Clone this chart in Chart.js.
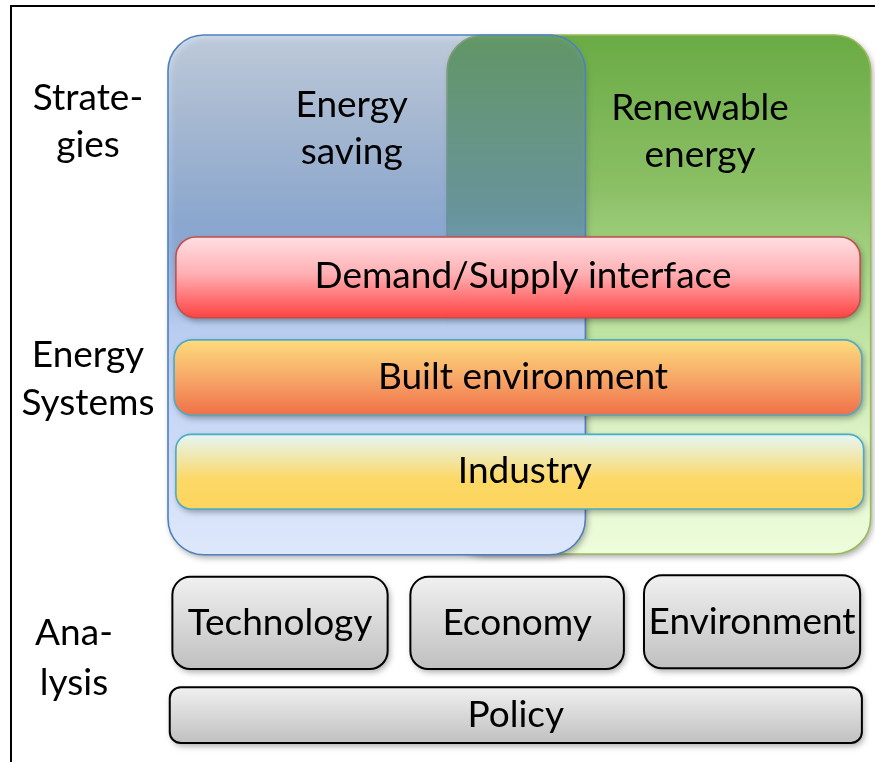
<!DOCTYPE html>
<html>
<head>
<meta charset="utf-8">
<script src="https://cdn.jsdelivr.net/npm/chart.js@4.4.0/dist/chart.umd.min.js"></script>
<style>
  html, body { margin: 0; padding: 0; background: #fff; }
  #wrap { width: 875px; height: 762px; position: relative; }
</style>
</head>
<body>
<div id="wrap"><canvas id="diagram" width="875" height="762"></canvas></div>
<script>
// 图的数据 (单位: 0-100 网格, x 向右, y 向下)
// 策略层
const strategyNames = [['Energy', 'saving'], ['Renewable', 'energy']];
const strategyXFrom = [19.2, 51.1];
const strategyXTo = [66.9, 99.5];
const strategyYFrom = [4.6, 4.6];
const strategyYTo = [72.8, 72.7];

// 能源系统层
const systemNames = ['Demand/Supply interface', 'Built environment', 'Industry'];
const systemXFrom = [20.1, 19.9, 20.1];
const systemXTo = [98.3, 98.5, 98.7];
const systemYFrom = [31.1, 44.6, 57.0];
const systemYTo = [41.7, 54.5, 66.8];

// 分析层
const analysisNames = ['Technology', 'Economy', 'Environment', 'Policy'];
const analysisXFrom = [19.7, 46.9, 73.6, 19.4];
const analysisXTo = [44.3, 71.3, 98.3, 98.5];
const analysisYFrom = [75.7, 75.7, 75.5, 90.2];
const analysisYTo = [87.8, 87.8, 87.7, 97.5];

// 左侧行标题
const rowLabels = [['Strate-', 'gies'], ['Energy', 'Systems'], ['Ana-', 'lysis']];

// 样式
const FONT = '37px Lato, "Open Sans", sans-serif';
const LINE_H = 47;

const strategyStyle = [
  { radius: 36,
    stops: [[0, 'rgba(100,140,192,0.3)'], [0.36, 'rgba(92,140,208,0.58)'], [0.56, 'rgba(184,204,240,1)'], [1, 'rgba(222,232,252,1)']],
    stroke: '#4f81bd' },
  { radius: 36,
    stops: [[0, '#6aab45'], [0.3, '#8cc066'], [0.42, '#a2d080'], [0.6, '#c4e6a8'], [0.78, '#dcf3c8'], [1, '#eefddc']],
    stroke: '#9bbb59' }
];
const systemStyle = [
  { radius: 20, stroke: '#c0504d', stops: [[0, '#ffdfe2'], [0.45, '#ffb0b4'], [1, '#ff4242']] },
  { radius: 18, stroke: '#4bacc6', stops: [[0, '#fddc7c'], [0.5, '#f7a868'], [1, '#f07048']] },
  { radius: 15, stroke: '#4bacc6', stops: [[0, '#e4f6f6'], [0.6, '#fcd866'], [1, '#fdd55e']] }
];
const grayStops = [[0, '#f0f0f0'], [1, '#c0c0c0']];

function roundRectPath(ctx, x, y, w, h, r) {
  r = Math.min(r, w / 2, h / 2);
  ctx.beginPath();
  ctx.moveTo(x + r, y);
  ctx.lineTo(x + w - r, y);
  ctx.arcTo(x + w, y, x + w, y + r, r);
  ctx.lineTo(x + w, y + h - r);
  ctx.arcTo(x + w, y + h, x + w - r, y + h, r);
  ctx.lineTo(x + r, y + h);
  ctx.arcTo(x, y + h, x, y + h - r, r);
  ctx.lineTo(x, y + r);
  ctx.arcTo(x, y, x + r, y, r);
  ctx.closePath();
}

function boxPixels(chart, x0, x1, y0, y1) {
  const sx = chart.scales.x, sy = chart.scales.y;
  return {
    left: sx.getPixelForValue(x0), right: sx.getPixelForValue(x1),
    top: sy.getPixelForValue(y0), bottom: sy.getPixelForValue(y1)
  };
}

function drawBox(chart, x0, x1, y0, y1, opts) {
  const ctx = chart.ctx;
  const b = boxPixels(chart, x0, x1, y0, y1);
  const grad = ctx.createLinearGradient(0, b.top, 0, b.bottom);
  opts.stops.forEach(s => grad.addColorStop(s[0], s[1]));
  ctx.save();
  roundRectPath(ctx, b.left, b.top, b.right - b.left, b.bottom - b.top, opts.radius);
  ctx.shadowColor = 'rgba(0,0,0,0.35)';
  ctx.shadowBlur = 6;
  ctx.shadowOffsetX = 2;
  ctx.shadowOffsetY = 3;
  ctx.fillStyle = grad;
  ctx.fill();
  ctx.restore();
  ctx.save();
  roundRectPath(ctx, b.left, b.top, b.right - b.left, b.bottom - b.top, opts.radius);
  ctx.lineWidth = opts.lineWidth || 1.6;
  ctx.strokeStyle = opts.stroke;
  ctx.stroke();
  ctx.restore();
  return b;
}

function drawText(ctx, text, x, baseline) {
  ctx.save();
  ctx.font = FONT;
  ctx.fillStyle = '#000';
  ctx.textAlign = 'center';
  ctx.textBaseline = 'alphabetic';
  ctx.fillText(text, x, baseline);
  ctx.restore();
}

const diagramPlugin = {
  id: 'diagram',
  beforeDraw(chart) {
    const ctx = chart.ctx;
    ctx.save();
    ctx.fillStyle = '#fff';
    ctx.fillRect(0, 0, chart.width, chart.height);
    // 外框 (左边和上边)
    ctx.fillStyle = '#000';
    ctx.fillRect(10, 5, 2, chart.height - 5);
    ctx.fillRect(10, 5, chart.width - 10, 2);
    ctx.restore();
  },
  afterDraw(chart) {
    const ctx = chart.ctx;
    const sx = chart.scales.x;

    // 策略大框: 先画绿色, 再画半透明蓝色
    drawBox(chart, strategyXFrom[1], strategyXTo[1], strategyYFrom[1], strategyYTo[1], strategyStyle[1]);
    drawBox(chart, strategyXFrom[0], strategyXTo[0], strategyYFrom[0], strategyYTo[0], strategyStyle[0]);

    // 策略标题
    const sCx = [40.2, 80.0];
    const sBase = [117, 120];
    strategyNames.forEach((lines, i) => {
      lines.forEach((t, j) => drawText(ctx, t, sx.getPixelForValue(sCx[i]), sBase[i] + j * LINE_H));
    });

    // 能源系统条
    systemNames.forEach((name, i) => {
      const b = drawBox(chart, systemXFrom[i], systemXTo[i], systemYFrom[i], systemYTo[i], systemStyle[i]);
      const cx = (b.left + b.right) / 2 + 5;
      const cy = (b.top + b.bottom) / 2;
      drawText(ctx, name, cx, cy + 11);
    });

    // 分析框
    analysisNames.forEach((name, i) => {
      const b = drawBox(chart, analysisXFrom[i], analysisXTo[i], analysisYFrom[i], analysisYTo[i],
        { radius: i === 3 ? 11 : 18, stroke: '#000', lineWidth: 2, stops: grayStops });
      const cx = (b.left + b.right) / 2;
      const cy = (b.top + b.bottom) / 2;
      drawText(ctx, name, cx, cy + 12);
    });

    // 左侧行标题
    const rCx = [88, 88, 74];
    const rBase = [110, 367, 645];
    const rGap = [47, 48, 50];
    rowLabels.forEach((lines, i) => {
      lines.forEach((t, j) => drawText(ctx, t, rCx[i], rBase[i] + j * rGap[i]));
    });
  }
};

const chart = new Chart(document.getElementById('diagram'), {
  type: 'scatter',
  data: { datasets: [{ data: [], pointRadius: 0 }] },
  options: {
    responsive: false,
    animation: false,
    layout: { padding: 0 },
    plugins: { legend: { display: false }, tooltip: { enabled: false } },
    scales: {
      x: { type: 'linear', min: 0, max: 100, display: false },
      y: { type: 'linear', min: 0, max: 100, reverse: true, display: false }
    }
  },
  plugins: [diagramPlugin]
});
</script>
</body>
</html>
